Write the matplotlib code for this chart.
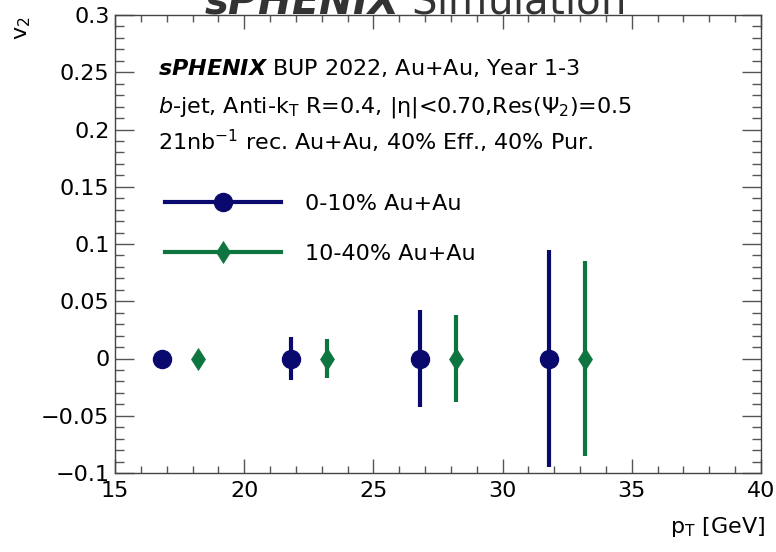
import matplotlib
matplotlib.use("Agg")
import matplotlib.pyplot as plt
from matplotlib.lines import Line2D
from matplotlib.ticker import MultipleLocator

# values
pt_central = [16.8, 21.8, 26.8, 31.8]
v2_central = [0.0, 0.0, 0.0, 0.0]
err_central = [0.006, 0.0185, 0.0425, 0.095]

pt_midcent = [18.2, 23.2, 28.2, 33.2]
v2_midcent = [0.0, 0.0, 0.0, 0.0]
err_midcent = [0.005, 0.017, 0.038, 0.085]

labels = ["0-10% Au+Au", "10-40% Au+Au"]
yticks = [-0.1, -0.05, 0, 0.05, 0.1, 0.15, 0.2, 0.25, 0.3]
ytick_labels = ["\u22120.1", "\u22120.05", "0", "0.05", "0.1", "0.15", "0.2", "0.25", "0.3"]
info_lines = [
    r"$\mathbfit{sPHENIX}$ BUP 2022, Au+Au, Year 1-3",
    r"$\mathit{b}$-jet, Anti-k$_{\rm T}$ R=0.4, |η|<0.70,Res(Ψ$_{2}$)=0.5",
    r"21nb$^{-1}$ rec. Au+Au, 40% Eff., 40% Pur.",
]

BLUE = "#0a0a6e"
GREEN = "#0e7440"

plt.rcParams["font.family"] = ["DejaVu Sans"]
plt.rcParams["mathtext.fontset"] = "custom"
plt.rcParams["mathtext.rm"] = "DejaVu Sans"
plt.rcParams["mathtext.it"] = "DejaVu Sans:italic"
plt.rcParams["mathtext.bf"] = "DejaVu Sans:bold"
plt.rcParams["mathtext.bfit"] = "DejaVu Sans:bold:italic"

W, H = 776, 552
fig = plt.figure(figsize=(W / 100, H / 100), dpi=100)


def fx(px):
    return px / W


def fy(py):
    return 1 - py / H


ax = fig.add_axes([fx(115), fy(473), fx(761) - fx(115), fy(15) - fy(473)])

ax.errorbar(pt_central, v2_central, yerr=err_central, fmt="o", color=BLUE,
            ms=13, lw=3, capsize=0)
ax.errorbar(pt_midcent, v2_midcent, yerr=err_midcent, fmt="d", color=GREEN,
            ms=11.5, mew=0.5, lw=3, capsize=0)

ax.set_xlim(15, 40)
ax.set_ylim(-0.1, 0.3)
ax.xaxis.set_major_locator(MultipleLocator(5))
ax.xaxis.set_minor_locator(MultipleLocator(1))
ax.yaxis.set_minor_locator(MultipleLocator(0.01))
ax.set_yticks(yticks)
ax.set_yticklabels(ytick_labels)
ax.tick_params(which="both", direction="in", top=True, right=True, labelsize=16,
               color="#555555")
ax.tick_params(axis="x", which="major", length=10, width=1, pad=6)
ax.tick_params(axis="x", which="minor", length=5, width=1)
ax.tick_params(axis="y", which="major", length=14, width=1, pad=4)
ax.tick_params(axis="y", which="minor", length=6.5, width=1)
for s in ax.spines.values():
    s.set_linewidth(1)
    s.set_color("#444444")

fig.text(fx(765), fy(527), r"p$_{\rm T}$ [GeV]", ha="right", va="center", fontsize=16)
fig.text(fx(23), fy(28), r"v$_{2}$", ha="center", va="center", fontsize=16, rotation=90)

# title, cut by the top edge as in the reference
fig.text(fx(414), fy(13), r"$\mathbfit{sPHENIX}$ Simulation", ha="center",
         va="baseline", fontsize=29, color="#333333")

for i, line in enumerate(info_lines):
    fig.text(fx(158), fy(75 + 37.5 * i), line, ha="left", va="baseline", fontsize=16)

handles = [
    Line2D([], [], color=BLUE, lw=3, marker="o", ms=13),
    Line2D([], [], color=GREEN, lw=3, marker="d", ms=11.5, mew=0.5),
]
fig.legend(handles, labels, loc="upper left", bbox_to_anchor=(fx(165), fy(194)),
           frameon=False, fontsize=16, handlelength=5.2, handletextpad=1.1,
           labelspacing=1.35, borderaxespad=0, borderpad=0)

fig.savefig("out.png", dpi=100)
